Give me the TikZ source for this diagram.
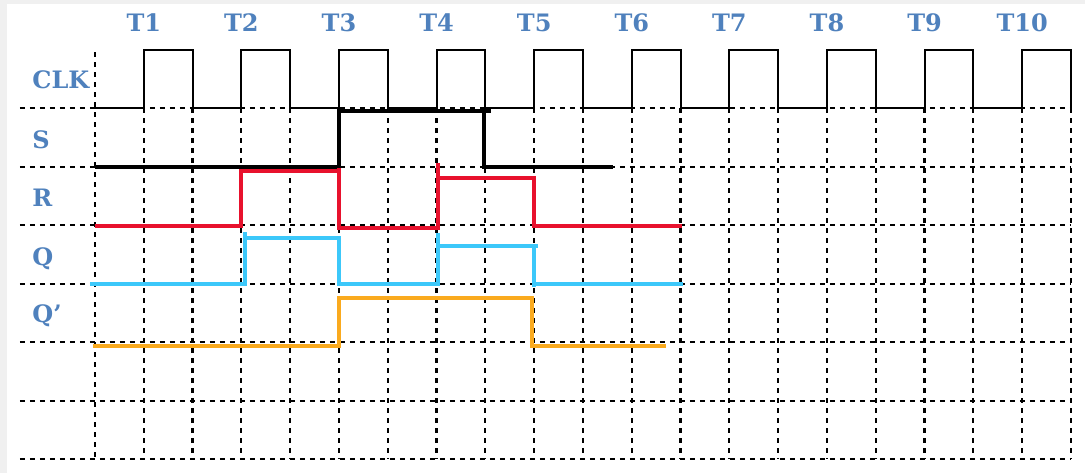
\documentclass[tikz,border=0pt]{standalone}
\usepackage{fontspec}
\setmainfont{DejaVu Serif}
\usetikzlibrary{positioning}
\definecolor{myblue}{RGB}{79,129,189}
\definecolor{myred}{RGB}{232,17,45}
\definecolor{mycyan}{RGB}{60,200,250}
\definecolor{myorange}{RGB}{250,170,30}
\definecolor{myframe}{RGB}{240,240,240}

\begin{document}
\begin{tikzpicture}[x=24.4pt,y=-29.25pt,
	every node/.style={font=\fontsize{12}{12}\selectfont\bfseries,text=myblue,inner sep=0pt},
	gridline/.style={black,line width=1.1pt,dash pattern=on 2.5pt off 2.5pt},
	clkline/.style={black,line width=1pt},
	sigline/.style={line width=2pt},
	%every label/.style={anchor=base west},
	]
	
	% the frame
	\fill[myframe] (-1.9467,-1.8513) rectangle (20.287,6.234);
	\fill[white] (-1.803,-1.783) rectangle (20.287,6.234);
	\useasboundingbox (-1.9467,-1.8513) rectangle (20.287,6.234);
	
	% the grid
	\foreach \j in {0,...,6}
	\draw[gridline] (-1.537,\j) -- (20,\j);
	\draw[gridline] (0,-0.96) -- (0,6);
	\foreach \i in {1,...,20}
	\draw[gridline] (\i,0) -- (\i,6);
	
	% the clock
	\draw[clkline] (0,0) \foreach \i in {1,3,...,19} {-- (\i,0) -- (\i,-1) -- (\i+1,-1) -- (\i+1,0)};
	
	% the time labels
	\foreach \k in {1,...,10}
	\node[anchor=base] (t\k) at (2*\k-1,-1.31) {T\k};
	
	% the signal names
	\node[anchor=base west] (clk) at (-1.29,-0.34) {CLK};
	\node[anchor=base west] (s) at (-1.29,0.68) {S};
	\node[anchor=base west] (r) at (-1.29,1.68) {R};
	\node[anchor=base west] (q) at (-1.29,2.68) {Q};
	\node[anchor=base west] (qn) at (-1.29,3.67) {Q’};
	
	% the signal S
	\draw[sigline,black] (0,0.995) -- (5.04,0.995);
	\draw[sigline,black] (5.01,0.995) -- (5.01,0.046) -- (8.11,0.046);
	\draw[sigline,black] (7.98,0.046) -- (7.98,1.01) -- (10.61,1.01);
	
	% the signal R
	\draw[sigline,myred] (0,2.01) -- (2.99,2.01) -- (2.99,1.07) -- (5.04,1.07);
	\draw[sigline,myred] (5,1.02) -- (5,2.05) -- (7.02,2.05) -- (7.02,0.94);
	\draw[sigline,myred] (7.02,1.19) -- (8.99,1.19) -- (8.99,2.01) -- (12.03,2.01);
	
	% the signal Q
	\draw[sigline,mycyan] (-0.1,2.995) -- (3.08,2.995) -- (3.08,2.11);
	\draw[sigline,mycyan] (3.08,2.22) -- (5.04,2.22);
	\draw[sigline,mycyan] (5.01,2.22) -- (5.01,2.995) -- (7.02,2.995) -- (7.02,2.14);
	\draw[sigline,mycyan] (7.02,2.36) -- (9.08,2.36);
	\draw[sigline,mycyan] (9,2.36) -- (9,3.05);
	\draw[sigline,mycyan] (9,2.995) -- (12.05,2.995);
	
	% the signal Q'
	\draw[sigline,myorange] (-0.04,4.055) -- (5.01,4.055) -- (5.01,3.25) -- (8.96,3.25) -- (8.96,4.055) -- (11.7,4.055);
\end{tikzpicture}
\end{document}
